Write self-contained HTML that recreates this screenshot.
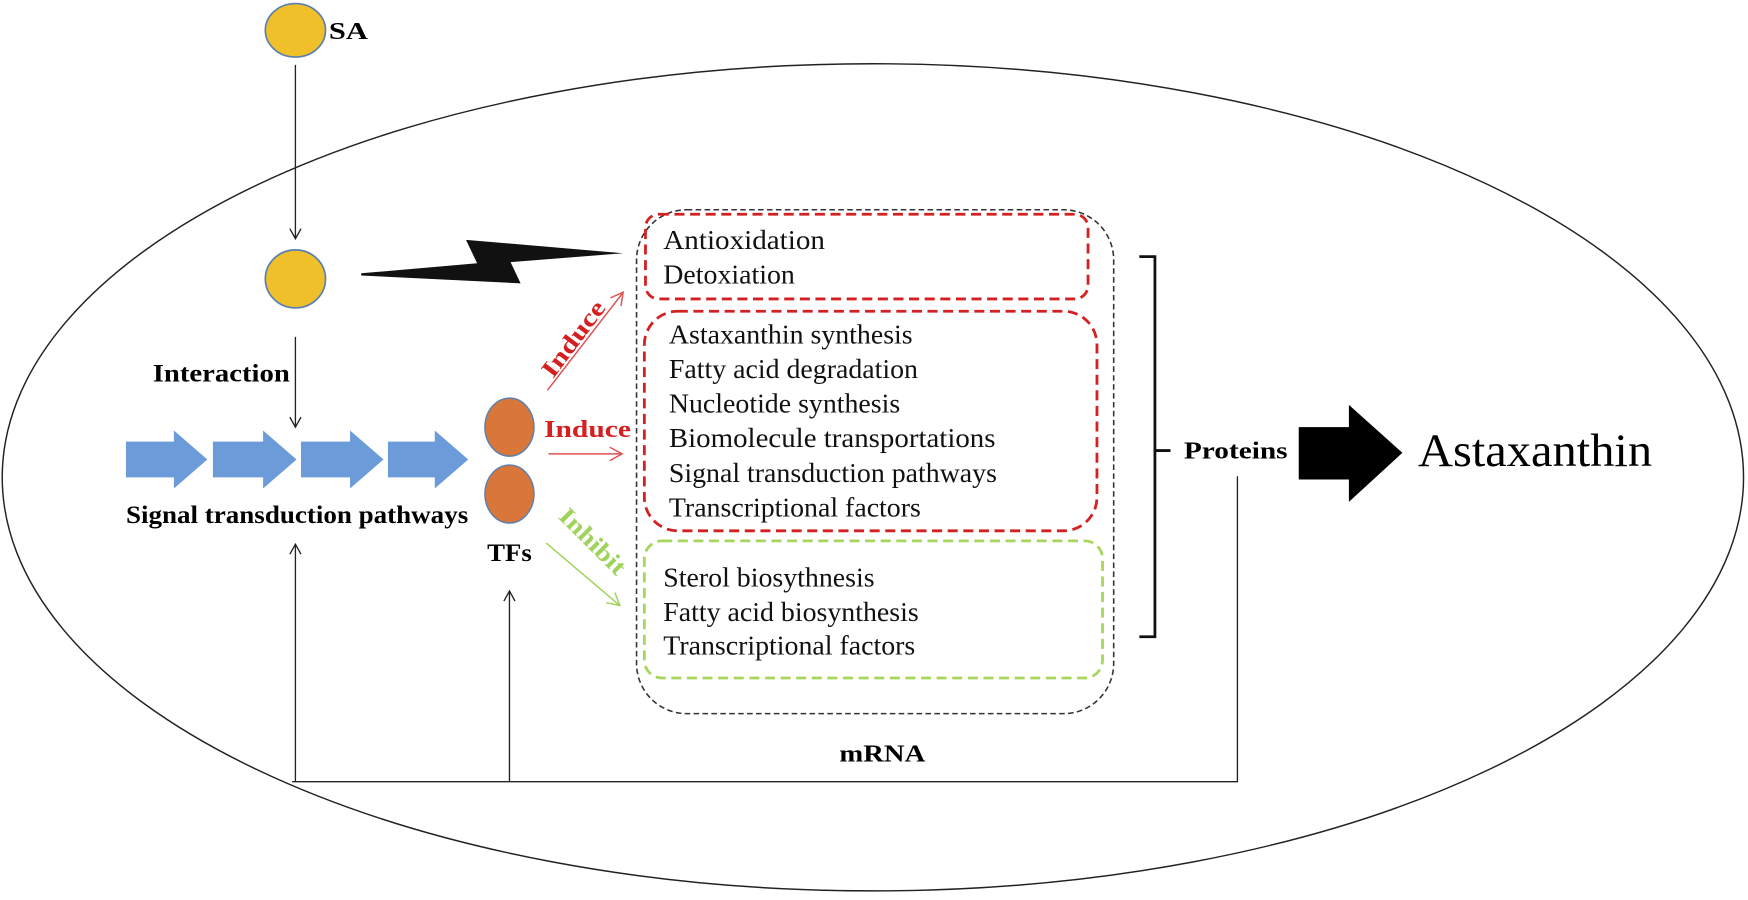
<!DOCTYPE html>
<html><head><meta charset="utf-8"><style>html,body{margin:0;padding:0;background:#fff}svg{display:block}</style></head><body>
<svg width="1748" height="900" viewBox="0 0 1568 807" xmlns="http://www.w3.org/2000/svg" font-family="Liberation Serif, serif">
<defs>
<marker id="ak" markerWidth="12" markerHeight="12" refX="10" refY="6" orient="auto" markerUnits="userSpaceOnUse"><path d="M1,1 L10,6 L1,11" fill="none" stroke="#222" stroke-width="1.2"/></marker>
<marker id="ar" markerWidth="14" markerHeight="14" refX="12" refY="7" orient="auto" markerUnits="userSpaceOnUse"><path d="M1,1 L12,7 L1,13" fill="none" stroke="#e05050" stroke-width="1.3"/></marker>
<marker id="ag" markerWidth="14" markerHeight="14" refX="12" refY="7" orient="auto" markerUnits="userSpaceOnUse"><path d="M1,1 L12,7 L1,13" fill="none" stroke="#9fd25a" stroke-width="1.3"/></marker>
</defs>
<ellipse cx="783" cy="428" rx="781" ry="371" fill="none" stroke="#222" stroke-width="1.3"/>
<ellipse cx="265" cy="27" rx="27" ry="24" fill="#f0c02a" stroke="#5a7fb0" stroke-width="1.5"/>
<text x="295" y="35" font-size="22" font-weight="bold" textLength="35" lengthAdjust="spacingAndGlyphs">SA</text>
<line x1="265" y1="58" x2="265" y2="214" stroke="#222" stroke-width="1.2" marker-end="url(#ak)"/>
<ellipse cx="265" cy="250" rx="27" ry="26" fill="#f0c02a" stroke="#5a7fb0" stroke-width="1.5"/>
<polygon points="324,245 428,236 418,215 559,227 458,235 467,254 324,247" fill="#111"/>
<text x="137" y="342" font-size="23" font-weight="bold" textLength="123" lengthAdjust="spacingAndGlyphs">Interaction</text>
<line x1="265" y1="302" x2="265" y2="383" stroke="#222" stroke-width="1.2" marker-end="url(#ak)"/>
<g fill="#6b9bd8">
<polygon points="113,396 156,396 156,386 186,412 156,438 156,428 113,428"/>
<polygon points="191,396 236,396 236,386 266,412 236,438 236,428 191,428"/>
<polygon points="270,396 314,396 314,386 344,412 314,438 314,428 270,428"/>
<polygon points="348,396 390,396 390,386 420,412 390,438 390,428 348,428"/>
</g>
<text x="113" y="469" font-size="23" font-weight="bold" textLength="307" lengthAdjust="spacingAndGlyphs">Signal transduction pathways</text>
<ellipse cx="457" cy="383" rx="22" ry="26" fill="#d9773a" stroke="#5a7fb0" stroke-width="1.3"/>
<ellipse cx="457" cy="443" rx="22" ry="26" fill="#d9773a" stroke="#5a7fb0" stroke-width="1.3"/>
<text x="437" y="503" font-size="23" font-weight="bold" textLength="40" lengthAdjust="spacingAndGlyphs">TFs</text>
<line x1="265" y1="701" x2="265" y2="488" stroke="#222" stroke-width="1.2" marker-end="url(#ak)"/>
<line x1="457" y1="701" x2="457" y2="530" stroke="#222" stroke-width="1.2" marker-end="url(#ak)"/>
<polyline points="262,701 1110,701 1110,427" fill="none" stroke="#222" stroke-width="1.2"/>
<line x1="491" y1="350" x2="559" y2="262" stroke="#e05050" stroke-width="1.3" marker-end="url(#ar)"/>
<text transform="translate(496,340) rotate(-53)" font-size="22" font-weight="bold" fill="#d42020" textLength="80" lengthAdjust="spacingAndGlyphs">Induce</text>
<line x1="492" y1="407" x2="558" y2="407" stroke="#e05050" stroke-width="1.3" marker-end="url(#ar)"/>
<text x="488" y="392" font-size="22" font-weight="bold" fill="#d42020" textLength="78" lengthAdjust="spacingAndGlyphs">Induce</text>
<line x1="490" y1="487" x2="556" y2="543" stroke="#9fd25a" stroke-width="1.3" marker-end="url(#ag)"/>
<text transform="translate(500,464) rotate(45)" font-size="22" font-weight="bold" fill="#9fd25a" textLength="75" lengthAdjust="spacingAndGlyphs">Inhibit</text>
<rect x="571" y="188" width="428" height="452" rx="45" fill="none" stroke="#333" stroke-width="1.4" stroke-dasharray="5,3"/>
<rect x="579" y="192" width="397" height="76" rx="12" fill="none" stroke="#d42020" stroke-width="2.5" stroke-dasharray="9,5"/>
<rect x="578" y="279" width="406" height="197" rx="30" fill="none" stroke="#d42020" stroke-width="2.5" stroke-dasharray="9,5"/>
<rect x="578" y="485" width="411" height="123" rx="16" fill="none" stroke="#a6d65e" stroke-width="2.5" stroke-dasharray="9,5"/>
<g font-size="25" fill="#111">
<text x="595" y="223" textLength="145" lengthAdjust="spacingAndGlyphs">Antioxidation</text>
<text x="595" y="254">Detoxiation</text>
<text x="600" y="308">Astaxanthin synthesis</text>
<text x="600" y="339">Fatty acid degradation</text>
<text x="600" y="370">Nucleotide synthesis</text>
<text x="600" y="401" textLength="293" lengthAdjust="spacingAndGlyphs">Biomolecule transportations</text>
<text x="600" y="432">Signal transduction pathways</text>
<text x="600" y="463">Transcriptional factors</text>
<text x="595" y="526">Sterol biosythnesis</text>
<text x="595" y="557">Fatty acid biosynthesis</text>
<text x="595" y="587">Transcriptional factors</text>
</g>
<text x="753" y="683" font-size="22" font-weight="bold" textLength="77" lengthAdjust="spacingAndGlyphs">mRNA</text>
<polyline points="1022,230 1036,230 1036,571 1022,571" fill="none" stroke="#111" stroke-width="2.5"/>
<line x1="1036" y1="404" x2="1050" y2="404" stroke="#111" stroke-width="2.5"/>
<text x="1062" y="411" font-size="22" font-weight="bold" textLength="93" lengthAdjust="spacingAndGlyphs">Proteins</text>
<polygon points="1165,383 1210,383 1210,363 1258,406 1210,450 1210,430 1165,430" fill="#000"/>
<text x="1272" y="418" font-size="42" textLength="210" lengthAdjust="spacingAndGlyphs">Astaxanthin</text>
</svg>
</body></html>
